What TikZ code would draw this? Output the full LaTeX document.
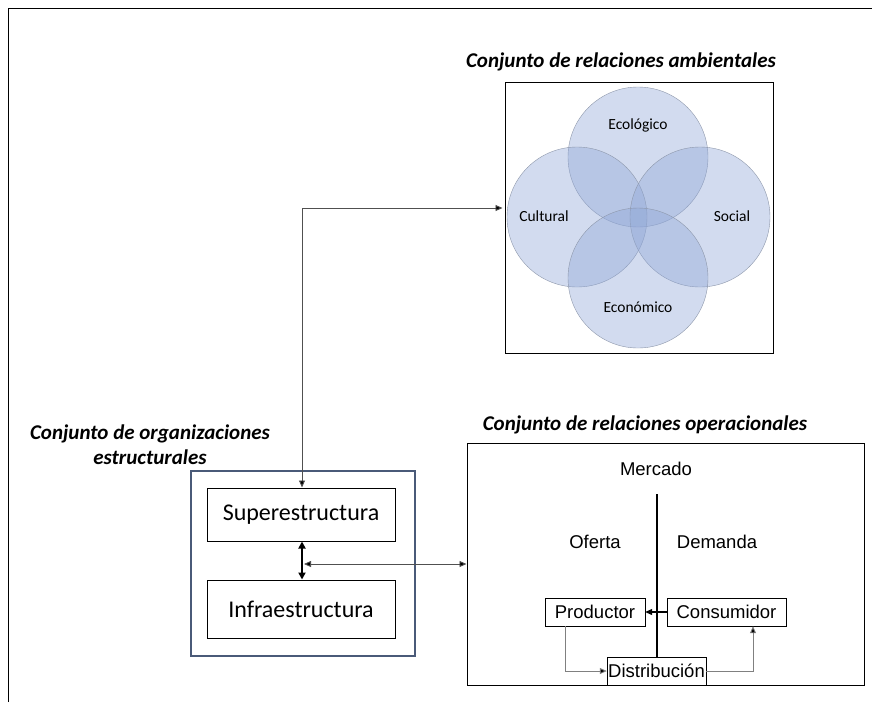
\documentclass[tikz,border=0pt]{standalone}
\usepackage{fontspec}
\setmainfont{Carlito}
\newfontfamily\arialfont{Liberation Sans}
\usetikzlibrary{arrows.meta}

\definecolor{circfill}{RGB}{143,166,214}
\definecolor{circline}{RGB}{140,150,170}
\definecolor{orgline}{RGB}{74,90,120}
\definecolor{flechagris}{RGB}{80,80,80}

\tikzset{
  punta/.tip={Triangle[length=7pt,width=6pt,fill=black]},
  caja/.style={draw, inner sep=0pt},
  titulo/.style={font=\fontsize{21}{25}\selectfont\bfseries\itshape},
  circulo/.style={circle, draw=circline, fill=circfill, fill opacity=0.4, minimum size=140pt, inner sep=0pt},
  etiq/.style={font=\fontsize{15.5}{18}\selectfont},
  mercado/.style={font=\fontsize{18.5}{22}\selectfont\arialfont},
  flecha/.style={flechagris, line width=0.9pt}
}

\begin{document}
\begin{tikzpicture}[x=1pt, y=-1pt]
      \useasboundingbox (0,0) rectangle (872,702);
      \draw [line width=1pt] (8,702) -- (8,8) -- (872,8);

      % relaciones ambientales
      \node [titulo] (tamb) at (621,62) {Conjunto de relaciones ambientales};
      \node [caja, line width=1pt, minimum width=268pt, minimum height=271pt] (amb) at (639,217.5) {};
      \foreach \nombre/\x/\y in {eco/638/157, cul/577/217, soc/700/217, econ/638/278} {
          \node [circulo] (\nombre) at (\x,\y) {};
        }
      \node [etiq] (teco) at (638,125) {Ecológico};
      \node [etiq] (tcul) at (544,216) {Cultural};
      \node [etiq] (tsoc) at (732,216) {Social};
      \node [etiq] (tecon) at (638,307) {Económico};

      % organizaciones estructurales
      \node [titulo, align=center] (torg) at (150,444.5) {Conjunto de organizaciones\\estructurales};
      \node [caja, draw=orgline, line width=1.5pt, minimum width=224pt, minimum height=185pt] (org) at (303,563.5) {};
      \node [caja, line width=1pt, minimum width=188pt, minimum height=53pt, font=\fontsize{24}{28}\selectfont] (sup) at (301,514.5) {Superestructura};
      \node [caja, line width=1pt, minimum width=188pt, minimum height=58pt, font=\fontsize{24}{28}\selectfont] (inf) at (301,609) {Infraestructura};

      % relaciones operacionales
      \node [titulo] (top) at (645,425) {Conjunto de relaciones operacionales};
      \node [caja, line width=1pt, minimum width=397pt, minimum height=242pt] (op) at (665.5,564) {};
      \node [mercado] (merc) at (656,469) {Mercado};
      \node [mercado] (ofer) at (595,542) {Oferta};
      \node [mercado] (dem) at (717,542) {Demanda};
      \node [caja, mercado, minimum width=100pt, minimum height=28pt] (prod) at (595,612) {Productor};
      \node [caja, mercado, minimum width=119pt, minimum height=28pt] (cons) at (726.5,612) {Consumidor};
      \node [caja, mercado, fill=white, minimum width=99pt, minimum height=28pt] (dist) at (656.5,671) {Distribución};
      \coordinate (mtop) at (657,494);
      \draw [line width=1.2pt] (mtop) -- (mtop |- dist.north);

      % conectores
      \draw [flecha, punta-punta] ([xshift=1pt]sup.north) |- ([yshift=9.5pt,xshift=-2pt]amb.west);
      \draw [line width=1.8pt, {Triangle[length=7pt,width=7pt]}-{Triangle[length=7pt,width=7pt]}] ([xshift=1pt]sup.south) -- ([xshift=1pt]inf.north);
      \draw [flecha, punta-punta] ([xshift=3pt]sup.south |- op.west) -- (op.west);
      \draw [line width=1.2pt, -punta] (cons.west) -- (prod.east);
      \draw [flecha, gray, -punta] ([xshift=-30pt]prod.south) |- (dist.west);
      \draw [flecha, gray, -punta] (dist.east) -| ([xshift=26.5pt]cons.south);
    \end{tikzpicture}
\end{document}
